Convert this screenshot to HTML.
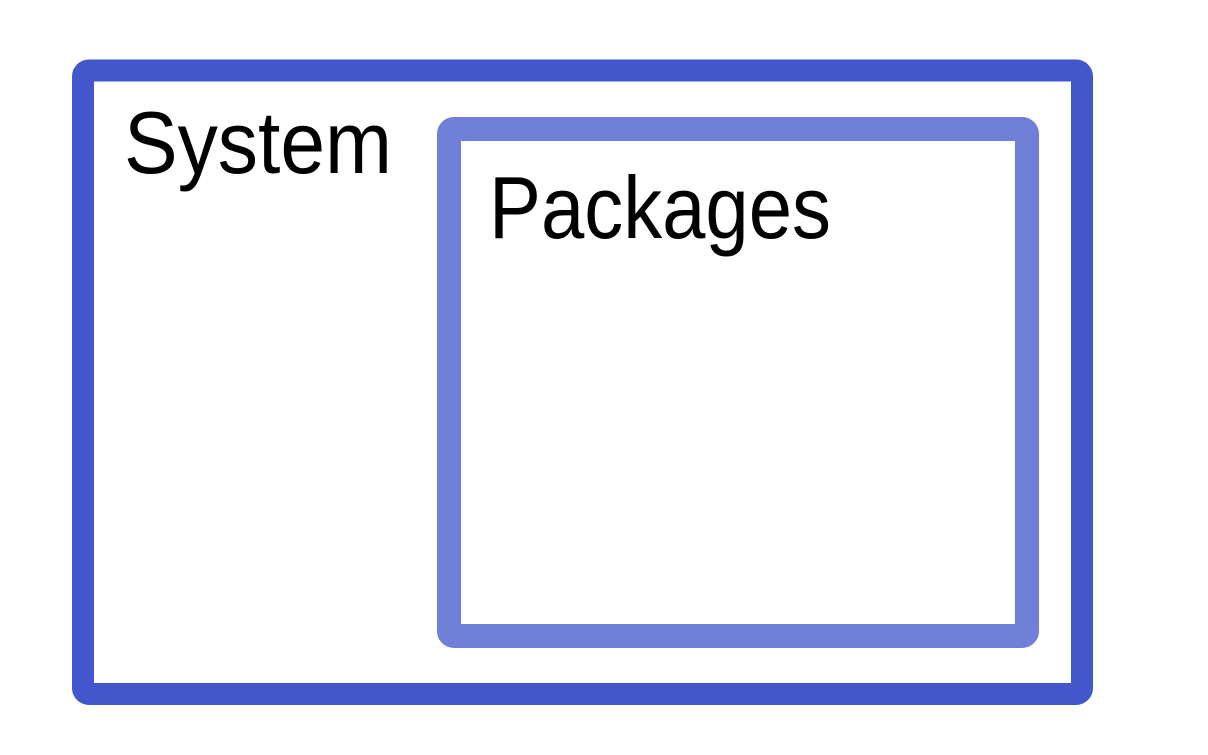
<!DOCTYPE html>
<html><head><meta charset="utf-8"><style>html,body{margin:0;padding:0;background:#fff}svg{display:block}</style></head>
<body>
<svg width="1208" height="755" viewBox="0 0 1208 755" xmlns="http://www.w3.org/2000/svg">
<rect x="83" y="70.5" width="999" height="623.5" rx="6" fill="#fff" stroke="#4257cb" stroke-width="22"/>
<rect x="449" y="129" width="578" height="507" rx="5" fill="#fff" stroke="#7080d8" stroke-width="24"/>
<text x="124" y="173" font-family="Liberation Sans, sans-serif" font-size="88" textLength="268" lengthAdjust="spacingAndGlyphs" fill="#000">System</text>
<text x="489" y="238" font-family="Liberation Sans, sans-serif" font-size="88" textLength="342" lengthAdjust="spacingAndGlyphs" fill="#000">Packages</text>
</svg>
</body></html>
